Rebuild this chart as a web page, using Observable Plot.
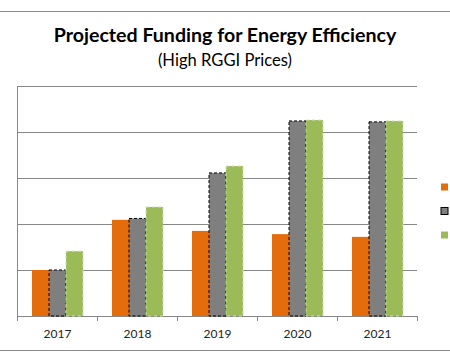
<!DOCTYPE html>
<html><head><meta charset="utf-8">
<script src="https://cdn.jsdelivr.net/npm/d3@7"></script>
<script src="https://cdn.jsdelivr.net/npm/@observablehq/plot@0.6"></script>
<style>
body{margin:0;background:#fff;}
#wrap{position:relative;width:450px;height:357px;overflow:hidden;font-family:Lato,"Open Sans",sans-serif;background:#fff;}
.hline{position:absolute;left:0;width:450px;height:1px;background:#8a8a8a;}
#title{position:absolute;top:24px;left:0;width:450px;text-align:center;font-weight:bold;font-size:19.6px;color:#000;line-height:22px;}
#subtitle{position:absolute;top:50px;left:0;width:450px;text-align:center;font-size:16.6px;color:#000;line-height:20px;}
#chart{position:absolute;left:0;top:72px;}
#chart svg{overflow:hidden;}
</style></head>
<body>
<div id="wrap">
  <div class="hline" style="top:11px"></div>
  <div id="title">Projected Funding for Energy Efficiency</div>
  <div id="subtitle">(High RGGI Prices)</div>
  <div id="chart"></div>
  <div class="hline" style="top:350px"></div>
</div>
<script>
const years = ["2017","2018","2019","2020","2021"];
const series = ["Scenario A","Scenario B","Scenario C"];
const seriesA = [1.00, 2.09, 1.85, 1.78, 1.72];
const seriesB = [1.00, 2.12, 3.11, 4.24, 4.22];
const seriesC = [1.41, 2.37, 3.26, 4.26, 4.24];
const gridTicks = [0,1,2,3,4,5];
const colors = ["#E46C0A","#7F7F7F","#9BBB59"];

const valuesBySeries = [seriesA, seriesB, seriesC];
const data = [];
years.forEach((yr,i)=>series.forEach((s,j)=>data.push({year:yr, series:s, value:valuesBySeries[j][i]})));
const only = s => data.filter(d=>d.series===s);

const chart = Plot.plot({
  width:450, height:285,
  marginLeft:15, marginRight:31, marginTop:14, marginBottom:41,
  style:{fontFamily:"Lato, 'Open Sans', sans-serif", background:"#fff"},
  fx:{domain:years, padding:0, label:null},
  x:{domain:series, paddingInner:0, paddingOuter:0.75, axis:null},
  y:{domain:[0,5], axis:null},
  color:{domain:series, range:colors},
  marks:[
    Plot.ruleY(gridTicks, {stroke:"#878787", strokeWidth:1}),
    Plot.barY(only(series[0]), {fx:"year", x:"series", y:"value", fill:"series", inset:0}),
    Plot.barY(only(series[1]), {fx:"year", x:"series", y:"value", fill:"series", stroke:"#000", strokeDasharray:"3,2", strokeWidth:1, inset:0}),
    Plot.barY(only(series[2]), {fx:"year", x:"series", y:"value", fill:"series", stroke:"#d2e2b0", strokeDasharray:"3,3", strokeWidth:1, inset:0}),
    Plot.axisFx({anchor:"bottom", tickSize:0, tickPadding:13, fontSize:12, label:null, fill:"#222"})
  ]
});
document.getElementById("chart").appendChild(chart);

// axis lines, category boundary ticks and legend keys, positioned through Plot's scales
const svg = d3.select(chart);
const fx = chart.scale("fx"), y = chart.scale("y"), color = chart.scale("color");
const bw = fx.bandwidth;
const y0 = y.apply(0), y5 = y.apply(5);
const edges = years.map(yr=>fx.apply(yr)).concat([fx.apply(years[years.length-1])+bw]);
const g = svg.append("g").attr("stroke","#878787").attr("stroke-width",1);
g.append("line").attr("x1",edges[0]+0.5).attr("x2",edges[0]+0.5).attr("y1",y5).attr("y2",y0+5);
edges.forEach(x=>g.append("line").attr("x1",Math.round(x)+0.5).attr("x2",Math.round(x)+0.5).attr("y1",y0).attr("y2",y0+5));

const lg = svg.append("g");
series.forEach((s,i)=>{
  const yy = 111.5 + i*24;
  lg.append("rect").attr("x",441).attr("y",yy).attr("width",7).attr("height",7)
    .attr("fill",color.apply(s)).attr("stroke", i===1 ? "#000" : "none").attr("stroke-width",1);
});
</script>
</body></html>
